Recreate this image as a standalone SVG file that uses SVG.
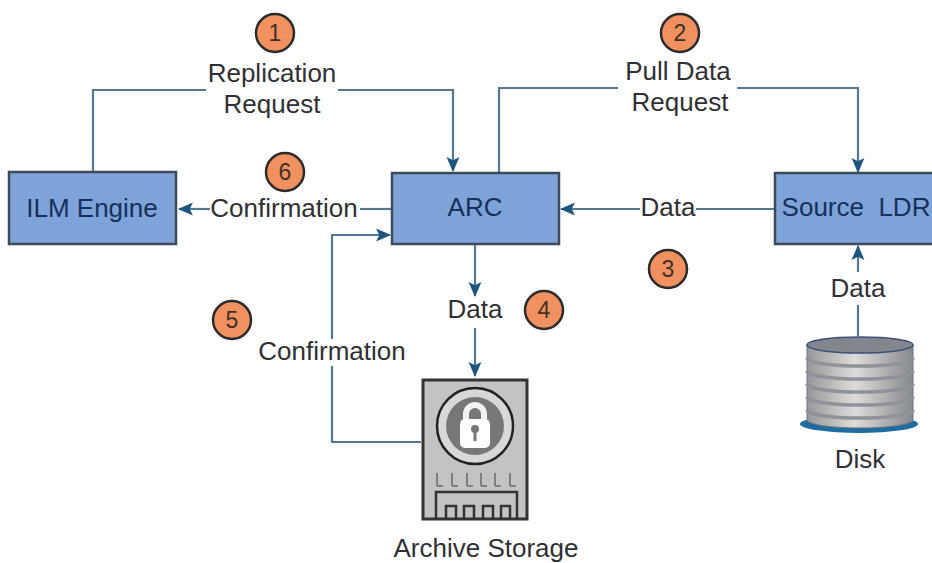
<svg xmlns="http://www.w3.org/2000/svg" width="932" height="563" viewBox="0 0 932 563">
<defs>
<marker id="ah" viewBox="0 0 14 14" refX="13" refY="7" markerWidth="15" markerHeight="15" markerUnits="userSpaceOnUse" orient="auto"><path d="M0 1 L14 7 L0 13 L3 7 Z" fill="#1f5680"/></marker>
<linearGradient id="disk" x1="0" y1="0" x2="1" y2="0"><stop offset="0" stop-color="#95979a"/><stop offset=".45" stop-color="#dcdcda"/><stop offset="1" stop-color="#85888d"/></linearGradient>
</defs>
<style>
text{font-family:"Liberation Sans",Arial,sans-serif;font-size:26px;fill:#303034;text-anchor:middle}
.box{fill:#7ea3d8;stroke:#3c4a5a;stroke-width:2.5}
.boxt{fill:#16305c}
.c{fill:none;stroke:#54798f;stroke-width:2.2}
.a{marker-end:url(#ah)}
.b{fill:#f0915f;stroke:#2b2b2b;stroke-width:2.5}
.n{font-size:23px;fill:#40302a}
.s{stroke:#8f9296;stroke-width:3.500;fill:none}
</style>
<rect width="932" height="563" fill="#fff"/>
<g id="connectors">
<path class="c" d="M93 172V90H206"/>
<path class="c a" d="M338 90H453V171"/>
<path class="c" d="M499 172V88H618"/>
<path class="c a" d="M737 88H858V172"/>
<path class="c" d="M392 209H360"/>
<path class="c a" d="M210 209H179"/>
<path class="c" d="M775 209H696"/>
<path class="c a" d="M640 209H561"/>
<path class="c a" d="M475 244V296"/>
<path class="c a" d="M475 328V376"/>
<path class="c" d="M421 442H332V366"/>
<path class="c a" d="M332 339V235H390"/>
<path class="c" d="M858 336V305"/>
<path class="c a" d="M858 272V246"/>
</g>
<g id="ilm-engine"><rect class="box" x="9" y="172" width="167" height="72"/><text class="boxt" x="92" y="217">ILM Engine</text></g>
<g id="arc"><rect class="box" x="392" y="173" width="167" height="71"/><text class="boxt" x="475" y="216">ARC</text></g>
<g id="source-ldr"><rect class="box" x="775" y="173" width="170" height="71"/><text class="boxt" x="856" y="216" xml:space="preserve">Source  LDR</text></g>
<g id="archive-storage">
<rect x="423" y="380" width="104" height="139" fill="#c2c3c4" stroke="#333" stroke-width="3"/>
<circle cx="475" cy="426" r="38" fill="#d8d8d8" stroke="#222" stroke-width="2.5"/>
<circle cx="475" cy="426" r="29" fill="#777"/>
<path d="M466 422v-8a9 9 0 0 1 18 0v8" fill="none" stroke="#f2f2f2" stroke-width="6"/>
<rect x="460" y="419" width="30" height="29" rx="5" fill="#fff"/>
<circle cx="475" cy="429" r="4" fill="#777"/><rect x="473.500" y="430" width="3" height="11" fill="#777"/>
<path d="M437 486v-13M437 486h6M452 486v-13M452 486h6M467 486v-13M467 486h6M481 486v-13M481 486h6M495 486v-13M495 486h6M510 486v-13M510 486h6" fill="none" stroke="#808080" stroke-width="2"/>
<path d="M436 519V492H517V519" fill="none" stroke="#333" stroke-width="2.500"/>
<path d="M446 519V506H456V519M464 519V506H474V519M483 519V506H493V519M501 519V506H510V519" fill="none" stroke="#333" stroke-width="2.500"/>
<text x="486" y="557">Archive Storage</text>
</g>
<g id="disk-node">
<ellipse cx="859" cy="424" rx="59" ry="9" fill="#1f6da0"/>
<path d="M807 345V420A53 8 0 0 0 913 420V345Z" fill="url(#disk)" stroke="#6c7480"/>
<path class="s" d="M807 358A53 8 0 0 0 913 358"/>
<path class="s" d="M807 371A53 8 0 0 0 913 371"/>
<path class="s" d="M807 384A53 8 0 0 0 913 384"/>
<path class="s" d="M807 397A53 8 0 0 0 913 397"/>
<path class="s" d="M807 410A53 8 0 0 0 913 410"/>
<ellipse cx="860" cy="345" rx="53" ry="8" fill="#83868c" stroke="#3d4f78" stroke-width="1.500"/>
<text x="860" y="468">Disk</text>
</g>
<g id="labels">
<text x="272" y="82">Replication</text><text x="272" y="113">Request</text>
<text x="678" y="80">Pull Data</text><text x="680" y="111">Request</text>
<text x="284" y="217">Confirmation</text>
<text x="668" y="216">Data</text>
<text x="475" y="318">Data</text>
<text x="332" y="360">Confirmation</text>
<text x="858" y="297">Data</text>
</g>
<g id="badges">
<circle class="b" cx="275" cy="33" r="19"/><text class="n" x="275" y="41">1</text>
<circle class="b" cx="680" cy="33" r="19"/><text class="n" x="680" y="41">2</text>
<circle class="b" cx="668" cy="269" r="19"/><text class="n" x="668" y="277">3</text>
<circle class="b" cx="544" cy="310" r="19"/><text class="n" x="544" y="318">4</text>
<circle class="b" cx="232" cy="320" r="19"/><text class="n" x="232" y="328">5</text>
<circle class="b" cx="285" cy="172" r="19"/><text class="n" x="285" y="180">6</text>
</g>
</svg>
